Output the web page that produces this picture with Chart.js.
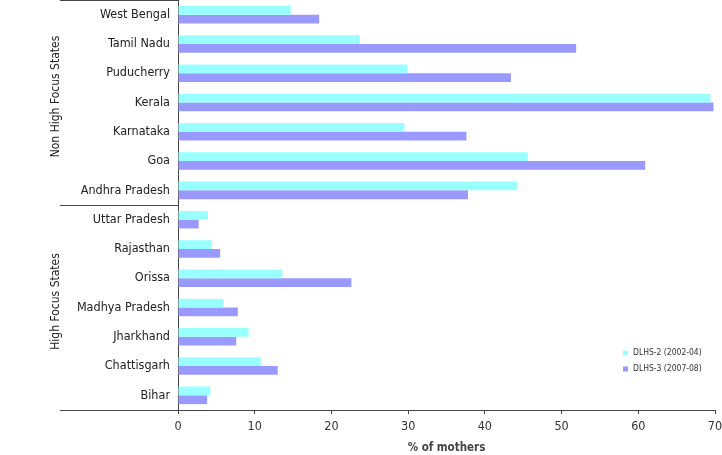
<!DOCTYPE html>
<html>
<head>
<meta charset="utf-8">
<script src="https://cdn.jsdelivr.net/npm/chart.js@4.4.0/dist/chart.umd.min.js"></script>
<style>
  html, body { margin: 0; padding: 0; background: #fff; }
  #wrap { width: 722px; height: 455px; }
</style>
</head>
<body>
<div id="wrap"><canvas id="myChart" width="722" height="455"></canvas></div>
<script>
// data, top to bottom
const states = ['West Bengal', 'Tamil Nadu', 'Puducherry', 'Kerala', 'Karnataka', 'Goa', 'Andhra Pradesh',
  'Uttar Pradesh', 'Rajasthan', 'Orissa', 'Madhya Pradesh', 'Jharkhand', 'Chattisgarh', 'Bihar'];
const dlhs2 = [14.7, 23.7, 29.9, 69.4, 29.5, 45.6, 44.2, 3.9, 4.4, 13.6, 5.9, 9.2, 10.8, 4.2];
const dlhs3 = [18.4, 51.9, 43.4, 69.8, 37.6, 60.9, 37.8, 2.7, 5.5, 22.6, 7.8, 7.6, 13.0, 3.8];
const groups = [
  { name: 'Non High Focus States', from: 0, to: 6 },
  { name: 'High Focus States', from: 7, to: 13 }
];
const xTicks = [0, 10, 20, 30, 40, 50, 60, 70];

const FONT = "'DejaVu Sans Condensed', 'DejaVu Sans', sans-serif";
Chart.defaults.font.family = FONT;
Chart.defaults.color = '#222';

// group labels, separator lines and the little legend
const extras = {
  id: 'extras',
  afterDraw(chart) {
    const c = chart.ctx;
    const y = chart.scales.y;
    const area = chart.chartArea;
    const half = (y.getPixelForValue(1) - y.getPixelForValue(0)) / 2;
    c.save();
    c.strokeStyle = '#444';
    c.lineWidth = 1;
    c.fillStyle = '#222';
    c.font = '12px ' + FONT;
    c.textAlign = 'center';
    c.textBaseline = 'middle';
    groups.forEach(g => {
      const top = y.getPixelForValue(g.from) - half;
      const bot = y.getPixelForValue(g.to) + half;
      c.beginPath();
      c.moveTo(60, Math.round(top) + 0.5);
      c.lineTo(area.left, Math.round(top) + 0.5);
      c.stroke();
      c.save();
      c.translate(56, (top + bot) / 2 - 6);
      c.rotate(-Math.PI / 2);
      c.fillText(g.name, 0, 0);
      c.restore();
    });
    c.beginPath();
    c.moveTo(60, Math.round(area.bottom) + 0.5);
    c.lineTo(area.left, Math.round(area.bottom) + 0.5);
    c.stroke();

    // legend
    c.font = '8.5px ' + FONT;
    c.textAlign = 'left';
    chart.data.datasets.forEach((ds, i) => {
      const ly = 353 + i * 16;
      c.fillStyle = ds.backgroundColor;
      c.fillRect(623, ly - 2.5, 5, 5);
      c.fillStyle = '#333';
      c.fillText(ds.label, 633, ly);
    });
    c.restore();
  }
};

const ctx = document.getElementById('myChart');
const myChart = new Chart(ctx, {
  type: 'bar',
  data: {
    labels: states,
    datasets: [
      { label: 'DLHS-2 (2002-04)', data: dlhs2, backgroundColor: '#99ffff' },
      { label: 'DLHS-3 (2007-08)', data: dlhs3, backgroundColor: '#9999ff' }
    ]
  },
  options: {
    indexAxis: 'y',
    responsive: false,
    animation: false,
    devicePixelRatio: 1,
    categoryPercentage: 0.6,
    barPercentage: 1.0,
    layout: { padding: { top: 0, right: 7, left: 0, bottom: 0 } },
    plugins: { legend: { display: false }, tooltip: { enabled: false } },
    scales: {
      x: {
        min: 0, max: 70,
        afterFit: s => { s.height = 45; s.paddingLeft = 0; s.paddingRight = 0; },
        afterBuildTicks: s => { s.ticks = xTicks.map(v => ({ value: v })); },
        grid: { drawOnChartArea: false, tickLength: 4, color: '#444' },
        border: { color: '#444' },
        ticks: { padding: 5, font: { size: 12.5 }, color: '#333', maxRotation: 0 },
        title: { display: true, text: '% of mothers', font: { size: 11.5, weight: 'bold' }, color: '#444', padding: 0 }
      },
      y: {
        afterFit: s => { s.width = 178; s.paddingTop = 0; s.paddingBottom = 0; },
        grid: { display: true, drawOnChartArea: false, drawTicks: false },
        border: { color: '#444' },
        ticks: { padding: 8, font: { size: 12.5 }, color: '#222', autoSkip: false }
      }
    }
  },
  plugins: [extras]
});
</script>
</body>
</html>
